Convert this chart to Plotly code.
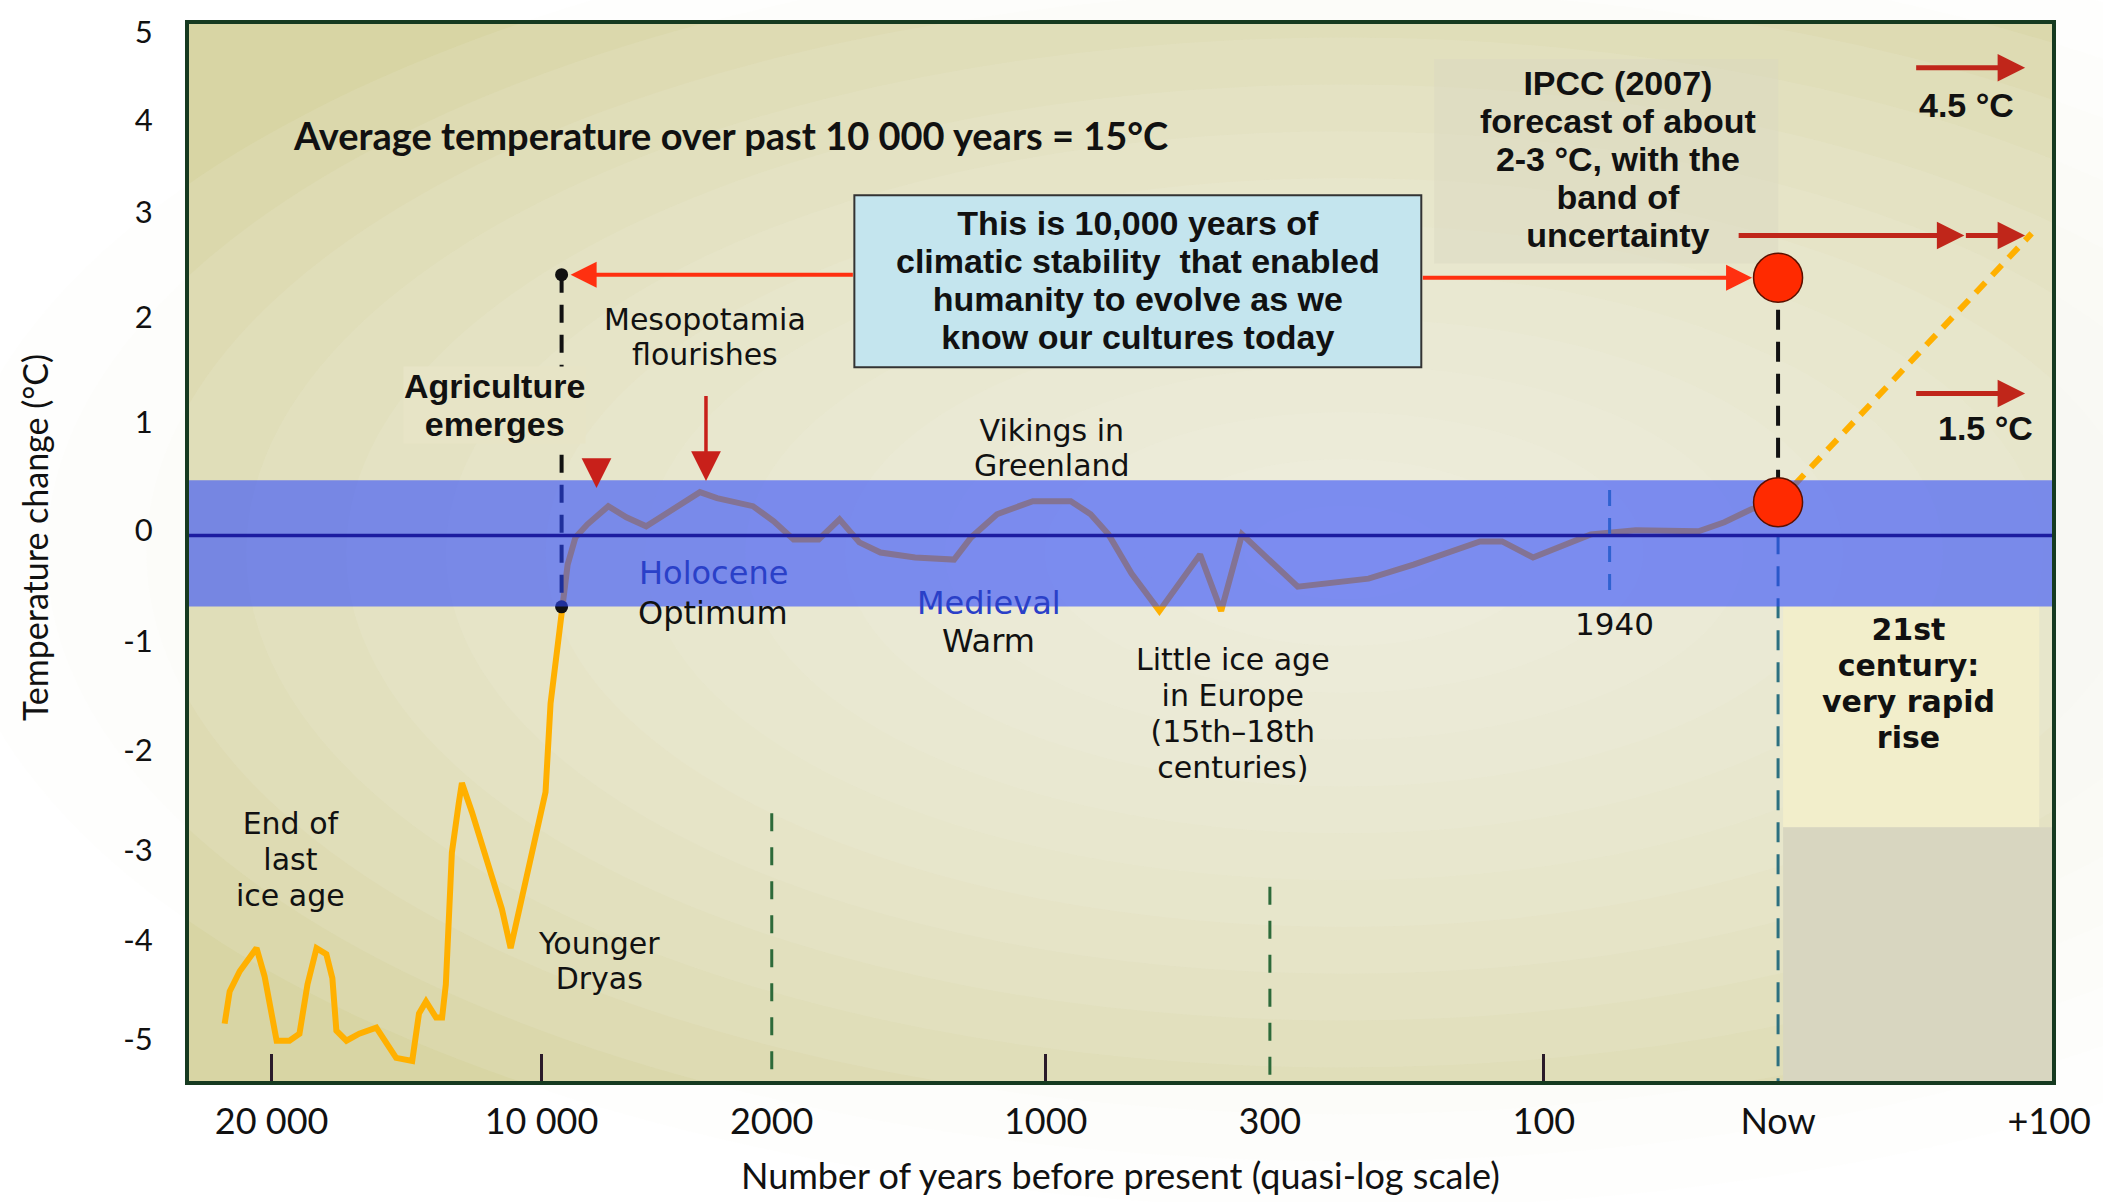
import plotly.graph_objects as go

# ---------------- data ----------------
# x axis: position on the quasi-log scale (0 = 20 000 yr before present, 6 = now)
x_tick_pos = [0.0, 1.075, 1.992, 3.083, 3.976, 5.067, 6.0, 7.08]
x_tick_text = ["20 000", "10 000", "2000", "1000", "300", "100", "Now", "+100"]
x_mark_pos = [0.0, 1.075, 3.083, 5.067]
# y tick labels are placed where the (slightly irregular) original axis prints them
y_tick_pos = [5.0, 4.12, 3.21, 2.17, 1.12, 0.05, -1.05, -2.13, -3.13, -4.02, -5.0]
y_tick_text = ["5", "4", "3", "2", "1", "0", "-1", "-2", "-3", "-4", "-5"]
x_range = [-0.329, 7.091]
y_range = [-5.42, 5.08]

# end of last ice age (temperature change, degC)
glacial_x = [-0.187, -0.167, -0.127, -0.060, -0.028, 0.020, 0.071, 0.111, 0.143, 0.179,
             0.218, 0.242, 0.258, 0.298, 0.349, 0.417, 0.496, 0.560, 0.587, 0.615,
             0.655, 0.679, 0.694, 0.718, 0.746, 0.758, 0.798, 0.865, 0.917, 0.952,
             0.984, 1.036, 1.091, 1.111, 1.155]
glacial_y = [-4.85, -4.53, -4.33, -4.10, -4.38, -5.02, -5.02, -4.95, -4.46, -4.10,
             -4.16, -4.40, -4.92, -5.02, -4.95, -4.89, -5.19, -5.22, -4.75, -4.63,
             -4.79, -4.79, -4.46, -3.15, -2.65, -2.46, -2.75, -3.31, -3.71, -4.10,
             -3.74, -3.22, -2.55, -1.67, -0.71]
# holocene
holocene_x = [1.179, 1.210, 1.258, 1.341, 1.413, 1.492, 1.571, 1.706, 1.774, 1.917,
              2.000, 2.079, 2.179, 2.262, 2.341, 2.425, 2.563, 2.718, 2.786, 2.889,
              3.032, 3.183, 3.262, 3.333, 3.425, 3.536, 3.698, 3.782, 3.865, 4.087,
              4.369, 4.548, 4.813, 4.901, 5.024, 5.254, 5.433, 5.683, 5.786, 5.893, 6.0]
holocene_y = [-0.29, -0.02, 0.11, 0.29, 0.18, 0.09, 0.21, 0.43, 0.37, 0.29,
              0.14, -0.04, -0.04, 0.16, -0.07, -0.17, -0.22, -0.24, -0.02, 0.21,
              0.34, 0.34, 0.21, 0.01, -0.38, -0.75, -0.19, -0.75, 0.01, -0.51,
              -0.43, -0.29, -0.06, -0.06, -0.22, 0.01, 0.05, 0.04, 0.13, 0.26, 0.33]
# 21st century projection
future_x = [6.0, 7.01]
future_y = [0.33, 3.0]

band_low, band_high = -0.706, 0.548
agri_x, agri_top, agri_bottom = 1.155, 2.59, -0.71
now_x, now_forecast, now_present = 6.0, 2.56, 0.33
x1940, span1940 = 5.329, [0.45, -0.58]
green_x = [1.992, 3.976]
green_top = [-2.76, -3.49]
high_y, mid_y, low_y = 4.645, 2.98, 1.41
arrow_x0, arrow_mid, arrow_x1 = 6.544, 6.742, 6.984
agri_arrow = [1.294, 0.77, 0.47]
meso_arrow = [1.730, 1.40, 0.54]
box_x, box_y = [2.321, 4.579], [1.67, 3.38]

LATO = "Lato"
DEJAVU = "DejaVu Sans"
ARIAL = "Liberation Sans"
INK = "#111111"
PX_PER_UNIT = 101.4  # vertical pixels per degree in this layout

fig = go.Figure()

# orange temperature line (drawn below the translucent band)
fig.add_trace(go.Scatter(x=glacial_x + holocene_x, y=glacial_y + holocene_y, mode="lines",
                         line=dict(color="#ffb000", width=6), hoverinfo="skip"))
fig.add_trace(go.Scatter(x=future_x, y=future_y, mode="lines",
                         line=dict(color="#ffb000", width=6, dash="14px,10px"), hoverinfo="skip"))
# agriculture marker line
fig.add_trace(go.Scatter(x=[agri_x, agri_x], y=[agri_top, agri_bottom], mode="lines+markers",
                         line=dict(color=INK, width=4, dash="18px,12px"),
                         marker=dict(color=INK, size=13), hoverinfo="skip"))
# "now" lines
fig.add_trace(go.Scatter(x=[now_x, now_x], y=[now_forecast, now_present], mode="lines",
                         line=dict(color=INK, width=4, dash="20px,12px"), hoverinfo="skip"))
fig.add_trace(go.Scatter(x=[now_x, now_x], y=[now_present, y_range[0]], mode="lines",
                         line=dict(color="#2c7080", width=3, dash="20px,12px"), hoverinfo="skip"))
# green dashed markers
for gx, gt in zip(green_x, green_top):
    fig.add_trace(go.Scatter(x=[gx, gx], y=[gt, y_range[0]], mode="lines",
                             line=dict(color="#2d6a3a", width=3, dash="18px,16px"), hoverinfo="skip"))
# translucent holocene band
fig.add_trace(go.Scatter(x=[x_range[0], x_range[1], x_range[1], x_range[0], x_range[0]],
                         y=[band_low, band_low, band_high, band_high, band_low],
                         mode="lines", fill="toself", fillcolor="rgba(42,70,255,0.58)",
                         line=dict(width=0), hoverinfo="skip"))
# zero line
fig.add_trace(go.Scatter(x=x_range, y=[0, 0], mode="lines",
                         line=dict(color="#1c1ca0", width=3.5), hoverinfo="skip"))
# 1940 line
fig.add_trace(go.Scatter(x=[x1940, x1940], y=span1940, mode="lines",
                         line=dict(color="#2f62d0", width=3, dash="16px,12px"), hoverinfo="skip"))
# red circles
fig.add_trace(go.Scatter(x=[now_x, now_x], y=[now_forecast, now_present], mode="markers",
                         marker=dict(color="#ff2a00", size=49, line=dict(color="#5a1000", width=1.5)),
                         hoverinfo="skip"))

annotations = []


def label(lines, x, y_first, spacing, size, family, color=INK, bold=False, bg=None):
    """Multi-line label with a line pitch of `spacing` px."""
    base = spacing / 1.3 if len(lines) > 1 else size
    text = "<br>".join('<span style="font-size:%dpx">%s</span>' % (size, t) for t in lines)
    yc = y_first - (len(lines) - 1) / 2.0 * spacing / PX_PER_UNIT
    a = dict(x=x, y=yc, xref="x", yref="y", text=text, showarrow=False,
             xanchor="center", yanchor="middle", align="center",
             font=dict(family=family, size=base, color=color,
                       weight="bold" if bold else "normal"))
    if bg:
        a["bgcolor"] = bg
        a["borderpad"] = 0
    annotations.append(a)


label(["Average temperature over past 10 000 years = 15°C"], 1.829, 3.98, 0, 38, LATO, bold=True)
label(["IPCC (2007)", "forecast of about", "2-3 °C, with the", "band of", "uncertainty"],
      5.361, 4.49, 38, 34, ARIAL, bold=True)
label(["4.5 °C"], 6.750, 4.28, 0, 34, ARIAL, bold=True)
label(["1.5 °C"], 6.825, 1.07, 0, 34, ARIAL, bold=True)
label(["Agriculture", "emerges"], 0.889, 1.48, 38, 34, ARIAL, bold=True, bg="#e7e4c6")
label(["Mesopotamia", "flourishes"], 1.726, 2.14, 35, 30, DEJAVU)
label(["Vikings in", "Greenland"], 3.107, 1.04, 35, 30, DEJAVU)
label(["Holocene"], 1.758, -0.37, 0, 32, DEJAVU, color="#2a40c8")
label(["Optimum"], 1.758, -0.77, 0, 32, DEJAVU)
label(["Medieval"], 2.857, -0.67, 0, 32, DEJAVU, color="#2a40c8")
label(["Warm"], 2.857, -1.05, 0, 32, DEJAVU)
label(["Little ice age", "in Europe", "(15th–18th", "centuries)"], 3.829, -1.24, 36, 30, DEJAVU)
label(["1940"], 5.349, -0.88, 0, 31, DEJAVU)
label(["21st", "century:", "very rapid", "rise"], 6.520, -0.94, 36, 30, DEJAVU, bold=True)
label(["End of", "last", "ice age"], 0.075, -2.86, 36, 30, DEJAVU)
label(["Younger", "Dryas"], 1.302, -4.06, 35, 30, DEJAVU)
label(["This is 10,000 years of", "climatic stability  that enabled",
       "humanity to evolve as we", "know our cultures today"],
      sum(box_x) / 2, 3.10, 38, 34, ARIAL, bold=True)


def arrow(x, y, ax, ay, color, width, size, standoff=0):
    annotations.append(dict(x=x, y=y, ax=ax, ay=ay, xref="x", yref="y", axref="x", ayref="y",
                            text="", showarrow=True, arrowhead=2, arrowsize=size,
                            arrowwidth=width, arrowcolor=color, standoff=standoff))


arrow(agri_x, agri_top, box_x[0], agri_top, "#ff3010", 4, 1.3, standoff=9)
arrow(now_x, now_forecast, box_x[1], now_forecast, "#ff3010", 4, 1.3, standoff=26)
arrow(arrow_x1, high_y, arrow_x0, high_y, "#c0261a", 5, 1.1)
arrow(arrow_x1, low_y, arrow_x0, low_y, "#c0261a", 5, 1.1)
arrow(arrow_mid, mid_y, 5.837, mid_y, "#c0261a", 5, 1.1)
arrow(arrow_x1, mid_y, arrow_mid, mid_y, "#c0261a", 5, 1.1)
arrow(agri_arrow[0], agri_arrow[2], agri_arrow[0], agri_arrow[1], "#c8201a", 3.5, 1.7)
arrow(meso_arrow[0], meso_arrow[2], meso_arrow[0], meso_arrow[1], "#c8201a", 3.5, 1.7)

# axis titles
annotations.append(dict(x=0.5, y=-0.089, xref="paper", yref="paper", showarrow=False,
                        text="Number of years before present (quasi-log scale)",
                        font=dict(family=LATO, size=36, color=INK),
                        xanchor="center", yanchor="middle"))
annotations.append(dict(x=-0.083, y=0.514, xref="paper", yref="paper", showarrow=False,
                        text="Temperature change (°C)", textangle=-90,
                        font=dict(family=LATO, size=34, color=INK),
                        xanchor="center", yanchor="middle"))

# background shading (soft light centre)
shapes = []
n_rings = 14
for i in range(n_rings):
    f = 1.0 - i / n_rings
    shapes.append(dict(type="circle", xref="x domain", yref="y domain",
                       x0=0.62 - 0.75 * f, x1=0.62 + 0.75 * f, y0=0.5 - 0.62 * f, y1=0.5 + 0.62 * f,
                       fillcolor="#f9f8f0", opacity=0.11, line=dict(width=0), layer="below"))
shapes.append(dict(type="rect", xref="x", yref="y", x0=6.02, x1=7.04, y0=-2.90, y1=band_low,
                   fillcolor="#f2eecb", line=dict(width=0), layer="below"))
shapes.append(dict(type="rect", xref="x", yref="y", x0=6.02, x1=x_range[1], y0=y_range[0], y1=-2.90,
                   fillcolor="#d8d6c0", line=dict(width=0), layer="below"))
shapes.append(dict(type="rect", xref="x", yref="y", x0=4.63, x1=6.0, y0=2.70, y1=4.73,
                   fillcolor="#d9d6c2", opacity=0.45, line=dict(width=0), layer="below"))
# text box behind the stability statement
shapes.append(dict(type="rect", xref="x", yref="y", x0=box_x[0], x1=box_x[1], y0=box_y[0], y1=box_y[1],
                   fillcolor="#c4e5ee", line=dict(color="#333333", width=2), layer="above"))

fig.update_layout(
    width=2103, height=1202,
    margin=dict(l=189, r=44, t=16, b=121),
    paper_bgcolor="white", plot_bgcolor="#d8d5a4",
    showlegend=False, hovermode=False,
    annotations=annotations, shapes=shapes,
    xaxis=dict(range=x_range, tickmode="array", tickvals=x_tick_pos, ticktext=x_tick_text,
               ticks="", showgrid=False, zeroline=False, showline=True, mirror=True,
               linecolor="#163a20", linewidth=4, ticklabelstandoff=6,
               tickfont=dict(family=LATO, size=36, color=INK),
               minor=dict(tickmode="array", tickvals=x_mark_pos, ticks="inside", ticklen=27,
                          tickwidth=3, tickcolor="#2a1a2a", showgrid=False)),
    yaxis=dict(range=y_range, tickmode="array", tickvals=y_tick_pos, ticktext=y_tick_text,
               ticks="", showgrid=False, zeroline=False, showline=True, mirror=True,
               linecolor="#163a20", linewidth=4, ticklabelstandoff=26,
               tickfont=dict(family=LATO, size=31, color=INK)),
)

fig.write_html("out.html", config={"displayModeBar": False},
               post_script="document.body.style.margin='0px';")
